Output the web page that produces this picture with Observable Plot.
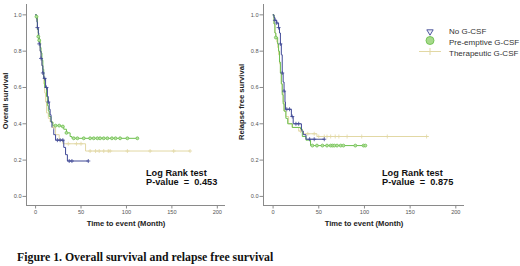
<!DOCTYPE html>
<html><head><meta charset="utf-8">
<script src="https://cdn.jsdelivr.net/npm/d3@7"></script>
<script src="https://cdn.jsdelivr.net/npm/@observablehq/plot@0.6"></script>
<style>
body{margin:0;background:#fff;}
#wrap{position:relative;width:520px;height:266px;overflow:hidden;font-family:"Liberation Sans",Arial,sans-serif;}
.abs{position:absolute;white-space:nowrap;}
.ann{font-weight:bold;font-size:9.2px;color:#111;line-height:9.6px;}
.ttl{font-weight:bold;font-size:7.6px;color:#222;}
.leg{font-size:8px;color:#333;}
</style>
</head><body>
<div id="wrap"></div>
<script>
// ---------- data ----------
const groups = ["No G-CSF", "Pre-emptive G-CSF", "Therapeutic G-CSF"];
const colors = ["#3f4896", "#6dbf4f", "#e2d8a4"];
const xTicks = [0, 50, 100, 150, 200];
const yTicks = [0, 0.2, 0.4, 0.6, 0.8, 1.0];

// Overall survival (step points: time in months, survival)
const osNoT  = [0,1,1.5,2,3,3.5,4,5,6,7,8,9,11,13,14,15,16,17,18,20,22,31,33,35,58];
const osNoS  = [1.0,0.98,0.96,0.93,0.9,0.87,0.84,0.8,0.76,0.72,0.68,0.65,0.6,0.55,0.52,0.48,0.45,0.41,0.38,0.34,0.31,0.27,0.23,0.195,0.195];
const osNoC  = [2,4,6,8,10,12,14,24,27,30,37,40,58];
const osPreT = [0,1,2,3,4,5,6,7,8,9,10,12,13,14,15,17,19,28,31,34,38,40,112];
const osPreS = [1.0,0.99,0.92,0.88,0.86,0.82,0.79,0.75,0.7,0.65,0.6,0.55,0.5,0.47,0.44,0.41,0.39,0.385,0.37,0.35,0.33,0.32,0.32];
const osPreC = [1,3,4,22,26,30,34,42,46,53,60,64,68,71,75,79,84,88,93,101,112];
const osThT  = [0,1,2,3,4,5,6,7,8,9,10,11,12,14,16,19,22,26,30,55,170];
const osThS  = [1.0,0.97,0.92,0.88,0.85,0.8,0.76,0.72,0.67,0.62,0.57,0.52,0.46,0.43,0.41,0.38,0.34,0.31,0.29,0.25,0.25];
const osThC  = [20,36,45,50,60,66,70,75,80,82,101,126,152,170];

// Relapse free survival
const rfNoT  = [0,1,2,4,6,7,8,9,10,11,12,13,13.5,20,22,31,33,36,56];
const rfNoS  = [1.0,0.985,0.97,0.955,0.93,0.9,0.84,0.78,0.68,0.63,0.58,0.52,0.48,0.44,0.4,0.36,0.34,0.315,0.315];
const rfNoC  = [2,4,6,8,10,12,15,18,21,25,28,40,45,56];
const rfPreT = [0,1,2,3,5,6,7,8,9,10,11,12,14,16,21,30,32,36,41,101];
const rfPreS = [1.0,0.95,0.9,0.875,0.84,0.8,0.74,0.68,0.62,0.56,0.51,0.47,0.43,0.4,0.38,0.37,0.33,0.31,0.28,0.28];
const rfPreC = [3,43,48,54,59,63,65,67,70,74,77,90,99,101];
const rfThT  = [0,1,2,3,4,5,6,7,8,9,10,11,12,14,17,21,28,33,48,170];
const rfThS  = [1.0,0.95,0.9,0.88,0.85,0.82,0.78,0.73,0.68,0.62,0.57,0.52,0.47,0.44,0.4,0.38,0.36,0.345,0.33,0.33];
const rfThC  = [30,38,45,50,56,59,63,68,72,81,97,125,168];

// ---------- helpers ----------
function steps(T, S, g){ return T.map((t,i)=>({t, s:S[i], g})); }
function censor(T, S, C, g){
  return C.map(c=>{ let v=S[0]; for(let i=0;i<T.length;i++){ if(T[i]<=c) v=S[i]; } return {t:c, s:v, g}; });
}
const font = '"Liberation Sans",Arial,sans-serif';

function panel(series, xDomain, marginLeft, width, marginRight){
  const marks = [
    Plot.ruleX([xDomain[0]], {stroke:"#8a8a8a", strokeWidth:1}),
    Plot.ruleY([-0.05], {stroke:"#8a8a8a", strokeWidth:1}),
    Plot.axisX({ticks:xTicks, tickSize:3.5, tickPadding:1.5, fontSize:5.6, stroke:"#8a8a8a", fill:"#555", label:null}),
    Plot.axisY({ticks:yTicks, tickFormat:d3.format(".1f"), tickSize:3.5, tickPadding:1.5, fontSize:5.6, stroke:"#8a8a8a", fill:"#555", label:null})
  ];
  [2,1,0].forEach(k=>{
    const [T,S,C] = series[k];
    marks.push(Plot.line(steps(T,S,k), {x:"t", y:"s", stroke:colors[k], strokeWidth:1, curve:"step-after"}));
  });
  [2,1,0].forEach(k=>{
    const [T,S,C] = series[k];
    const data = censor(T,S,C,k);
    if(k===1) marks.push(Plot.dot(data, {x:"t", y:"s", r:1.45, stroke:colors[k], strokeWidth:0.8, fill:"#b9e2a3"}));
    else marks.push(Plot.dot(data, {x:"t", y:"s", r:1.4, symbol:"plus", stroke:colors[k], strokeWidth:0.8}));
  });
  return Plot.plot({
    width, height:235, marginLeft, marginRight, marginTop:4, marginBottom:30,
    x:{domain:xDomain}, y:{domain:[-0.05,1.057]},
    style:{fontFamily:font, background:"transparent", overflow:"visible"},
    marks
  });
}

const wrap = document.getElementById("wrap");
function place(el, left, top){ el.style.position="absolute"; el.style.left=left+"px"; el.style.top=top+"px"; wrap.appendChild(el); return el; }
function txt(cls, html, left, top, extra){ const d=document.createElement("div"); d.className="abs "+cls; d.innerHTML=html; d.style.left=left+"px"; d.style.top=top+"px"; if(extra) Object.assign(d.style, extra); wrap.appendChild(d); return d; }

const left = panel([[osNoT,osNoS,osNoC],[osPreT,osPreS,osPreC],[osThT,osThS,osThC]], [-10,209], 26, 260, 35);
place(left, 0, 0);
const right = panel([[rfNoT,rfNoS,rfNoC],[rfPreT,rfPreS,rfPreC],[rfThT,rfThS,rfThC]], [-10.5,209.5], 26, 283, 56);
place(right, 237, 0);

// axis titles
txt("ttl", "Time to event (Month)", 126, 219, {transform:"translateX(-50%)"});
txt("ttl", "Time to event (Month)", 364, 219, {transform:"translateX(-50%)"});
txt("ttl", "Overall survival", 5, 101, {transform:"translate(-50%,-50%) rotate(-90deg)"});
txt("ttl", "Relapse free survival", 241, 102, {transform:"translate(-50%,-50%) rotate(-90deg)"});

// annotations
txt("ann", "Log Rank test<br>P-value&nbsp; =&nbsp; 0.453", 146, 168.5);
txt("ann", "Log Rank test<br>P-value&nbsp; =&nbsp; 0.875", 382, 168.5);

// legend
const legSvg = `<svg width="26" height="34" style="position:absolute;left:-26px;top:-2px;overflow:visible">
 <path d="M3.8,4.8 L10.2,4.8 L7,10.2 Z" fill="#eceef5" stroke="${colors[0]}" stroke-width="0.9"/>
 <circle cx="7" cy="15.5" r="4" fill="#a6d98a" stroke="${colors[1]}" stroke-width="0.9"/>
 <line x1="-4" y1="26.5" x2="18" y2="26.5" stroke="${colors[2]}" stroke-width="1"/>
 <line x1="7" y1="23" x2="7" y2="30" stroke="${colors[2]}" stroke-width="1"/>
</svg>`;
txt("leg", legSvg + groups.map(g=>`<div style="height:10.8px;line-height:10.8px">${g}</div>`).join(""), 449, 27);

// caption
txt("", "Figure 1. Overall survival and relapse free survival", 17, 250, {fontFamily:'"Liberation Serif","Times New Roman",serif', fontWeight:"bold", fontSize:"11.8px", color:"#111"});
</script>
</body></html>
